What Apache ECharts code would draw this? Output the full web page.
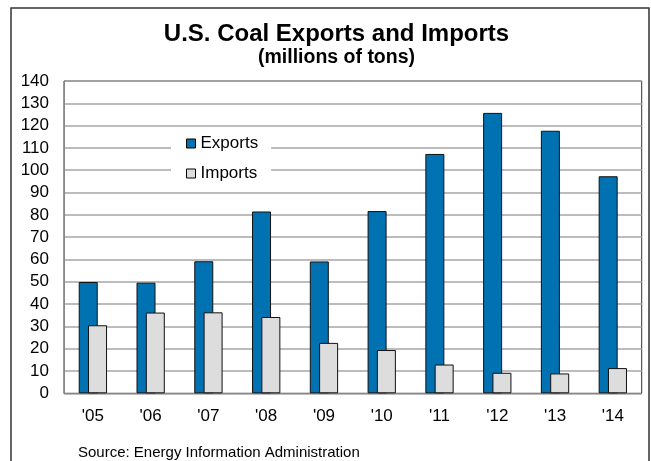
<!DOCTYPE html>
<html>
<head>
<meta charset="utf-8">
<script src="https://cdn.jsdelivr.net/npm/echarts@6/dist/echarts.min.js"></script>
<style>
html,body{margin:0;padding:0;background:#fff;}
#chart{width:651px;height:461px;}
</style>
</head>
<body>
<div id="chart"></div>
<script>
var categories = ["'05","'06","'07","'08","'09","'10","'11","'12","'13","'14"];
var exportsData = [49.9, 49.6, 59.2, 81.5, 59.1, 81.7, 107.3, 125.7, 117.7, 97.3];
var importsData = [30.5, 36.2, 36.3, 34.2, 22.6, 19.4, 12.9, 9.2, 8.9, 11.3];
var yTicks = [0, 140, 10];

var FONT = 'Liberation Sans, Arial, sans-serif';
var chart = echarts.init(document.getElementById('chart'), null, {renderer: 'canvas'});
chart.setOption({
  animation: false,
  backgroundColor: '#fff',
  textStyle: {fontFamily: FONT},
  title: [{
    text: 'U.S. Coal Exports and Imports',
    left: 331.5, top: 15.5, textAlign: 'center',
    textStyle: {fontFamily: FONT, fontSize: 24, fontWeight: 'bold', color: '#000', lineHeight: 27}
  }, {
    text: '(millions of tons)',
    left: 331.5, top: 42.5, textAlign: 'center',
    textStyle: {fontFamily: FONT, fontSize: 19.5, fontWeight: 'bold', color: '#000', lineHeight: 20}
  }, {
    text: 'Source: Energy Information Administration',
    left: 73, top: 439.5,
    textStyle: {fontFamily: FONT, fontSize: 15, fontWeight: 'normal', color: '#000', lineHeight: 16}
  }],
  legend: {
    orient: 'vertical',
    left: 171, top: 128,
    padding: [7, 13, 8, 15],
    backgroundColor: '#fff',
    itemWidth: 9, itemHeight: 9, itemGap: 13, itemTextGap: 3,
    textStyle: {fontFamily: FONT, fontSize: 17, color: '#000', lineHeight: 17},
    data: [
      {name: 'Exports', icon: 'rect', itemStyle: {color: '#0072B2', borderColor: '#000', borderWidth: 1}},
      {name: 'Imports', icon: 'rect', itemStyle: {color: '#DDDDDD', borderColor: '#000', borderWidth: 1}}
    ]
  },
  grid: {
    left: 64, right: 9.3, top: 81, bottom: 67.7,
    show: true, borderColor: '#333', borderWidth: 1, backgroundColor: 'transparent'
  },
  xAxis: {
    type: 'category',
    data: categories,
    axisLine: {show: true, lineStyle: {color: '#888', width: 1}},
    axisTick: {show: false},
    axisLabel: {fontFamily: FONT, fontSize: 17, color: '#000', margin: 15}
  },
  yAxis: {
    type: 'value',
    min: yTicks[0], max: yTicks[1], interval: yTicks[2],
    axisLine: {show: true, lineStyle: {color: '#888', width: 1}},
    axisTick: {show: false},
    axisLabel: {fontFamily: FONT, fontSize: 17, color: '#000', margin: 15},
    splitLine: {show: true, lineStyle: {color: '#A6A6A6', width: 1.5}}
  },
  series: [{
    name: 'Exports', type: 'bar', data: exportsData,
    barWidth: 19, barGap: '-51%',
    itemStyle: {color: '#0072B2', borderColor: '#111', borderWidth: 1}
  }, {
    name: 'Imports', type: 'bar', data: importsData,
    barWidth: 19, barGap: '-51%',
    itemStyle: {color: '#DDDDDD', borderColor: '#111', borderWidth: 1}
  }],
  graphic: [{
    type: 'rect', silent: true, z: 100,
    shape: {x: 11, y: 8, width: 638, height: 470},
    style: {fill: 'none', stroke: '#333', lineWidth: 1.5}
  }]
});
</script>
</body>
</html>
